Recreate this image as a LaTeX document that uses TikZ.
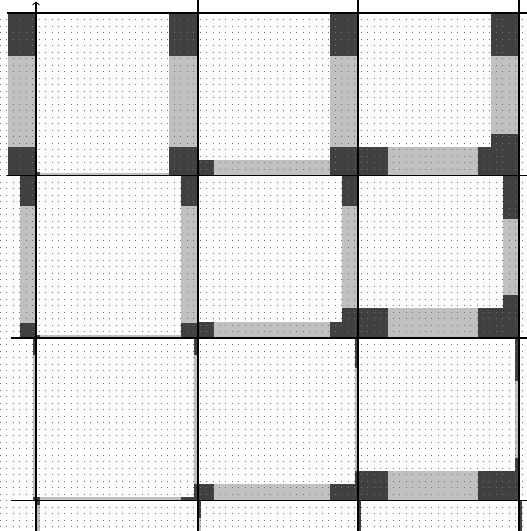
\documentclass[tikz,border=0pt]{standalone}
\usetikzlibrary{arrows.meta}
\definecolor{darkc}{HTML}{404040}
\definecolor{lightc}{HTML}{C0C0C0}
\begin{document}
\begin{tikzpicture}[x=1pt,y=-1pt,
  dk/.style={fill=darkc},
  lt/.style={fill=lightc},
  gridline/.style={line width=1.4pt, black},
  dotrow/.style={line width=1pt, black!55, dash pattern=on 1pt off 5.44pt}]
\useasboundingbox (0,0) rectangle (527,531);
\fill[white] (0,0) rectangle (527,531);
% ---- row 1 ----
\fill[dk] (8,13) rectangle (36,56);
\fill[lt] (8,56) rectangle (36,147);
\fill[dk] (8,147) rectangle (36,175.5);
\fill[lt] (36,173) rectangle (169,175.5);
\fill[dk] (36,172) rectangle (40,175.5);
\fill[dk] (169,13) rectangle (198,56);
\fill[lt] (169,56) rectangle (198,147);
\fill[dk] (169,147) rectangle (198,175.5);
\fill[dk] (198,160) rectangle (214,175.5);
\fill[lt] (214,160) rectangle (330,175.5);
\fill[dk] (330,13) rectangle (358,56);
\fill[lt] (330,56) rectangle (358,147);
\fill[dk] (330,147) rectangle (358,175.5);
\fill[dk] (358,147) rectangle (388,175.5);
\fill[lt] (388,147) rectangle (478,175.5);
\fill[dk] (478,147) rectangle (519,175.5);
\fill[dk] (491,13) rectangle (519,56);
\fill[lt] (491,56) rectangle (519,134);
\fill[dk] (491,134) rectangle (519,147);
% ---- row 2 ----
\fill[dk] (20,175.5) rectangle (36,206);
\fill[lt] (20,206) rectangle (36,323);
\fill[dk] (20,323) rectangle (36,338);
\fill[lt] (36,335) rectangle (181,338);
\fill[dk] (36,334.5) rectangle (40,338);
\fill[dk] (181,175.5) rectangle (198,206);
\fill[lt] (181,206) rectangle (198,323);
\fill[dk] (181,323) rectangle (198,338);
\fill[dk] (198,322) rectangle (214,338);
\fill[lt] (214,322) rectangle (330,338);
\fill[dk] (330,322) rectangle (342,338);
\fill[dk] (342,175.5) rectangle (358,206);
\fill[lt] (342,206) rectangle (358,308);
\fill[dk] (342,308) rectangle (358,338);
\fill[dk] (358,308) rectangle (388,338);
\fill[lt] (388,308) rectangle (478,338);
\fill[dk] (478,308) rectangle (519,338);
\fill[dk] (503,175.5) rectangle (519,219);
\fill[lt] (503,219) rectangle (519,295);
\fill[dk] (503,295) rectangle (519,308);
% ---- row 3 ----
\fill[dk] (33,338) rectangle (36,355);
\fill[lt] (33,355) rectangle (36,497);
\fill[dk] (33,497) rectangle (40,500.5);
\fill[lt] (40,497) rectangle (181,500.5);
\fill[dk] (181,497) rectangle (198,500.5);
\fill[dk] (194,338) rectangle (198,355);
\fill[lt] (194,355) rectangle (198,484);
\fill[dk] (194,484) rectangle (198,497);
\fill[dk] (198,484) rectangle (214,500.5);
\fill[lt] (214,484) rectangle (330,500.5);
\fill[dk] (330,484) rectangle (355,500.5);
\fill[dk] (355,338) rectangle (358,368);
\fill[lt] (355,368) rectangle (358,471);
\fill[dk] (355,471) rectangle (388,500.5);
\fill[lt] (388,471) rectangle (478,500.5);
\fill[dk] (478,471) rectangle (519,500.5);
\fill[dk] (515,338) rectangle (519,381);
\fill[lt] (515,381) rectangle (519,458);
\fill[dk] (515,458) rectangle (519,471);
% ---- below row 3 ----
\fill[dk] (36,500.5) rectangle (40,505);
\fill[lt] (36,505) rectangle (40,531);
\fill[dk] (198,500.5) rectangle (201,518);
\fill[lt] (198,518) rectangle (201,531);
\fill[dk] (358,500.5) rectangle (361,531);
\fill[dk] (519,500.5) rectangle (522,531);
% ---- dot grid ----
\foreach \k in {1,...,79}
  \draw[dotrow] (0,{13+6.5*\k}) -- (527,{13+6.5*\k});
% ---- lines ----
\coordinate (ybot) at (36,531);
\coordinate (ytop) at (36,1.5);
\draw[gridline, -{Straight Barb[length=3pt,width=7pt,line width=0.8pt]}] (ybot) -- (ytop);
\foreach \x in {198,358,519}
  \draw[gridline] (\x,0) -- (\x,531);
\draw[gridline] (7,13) -- (527,13);
\draw[gridline] (7,175.5) -- (527,175.5);
\draw[gridline] (11,338) -- (527,338);
\draw[gridline] (11,500.5) -- (527,500.5);
\end{tikzpicture}
\end{document}
